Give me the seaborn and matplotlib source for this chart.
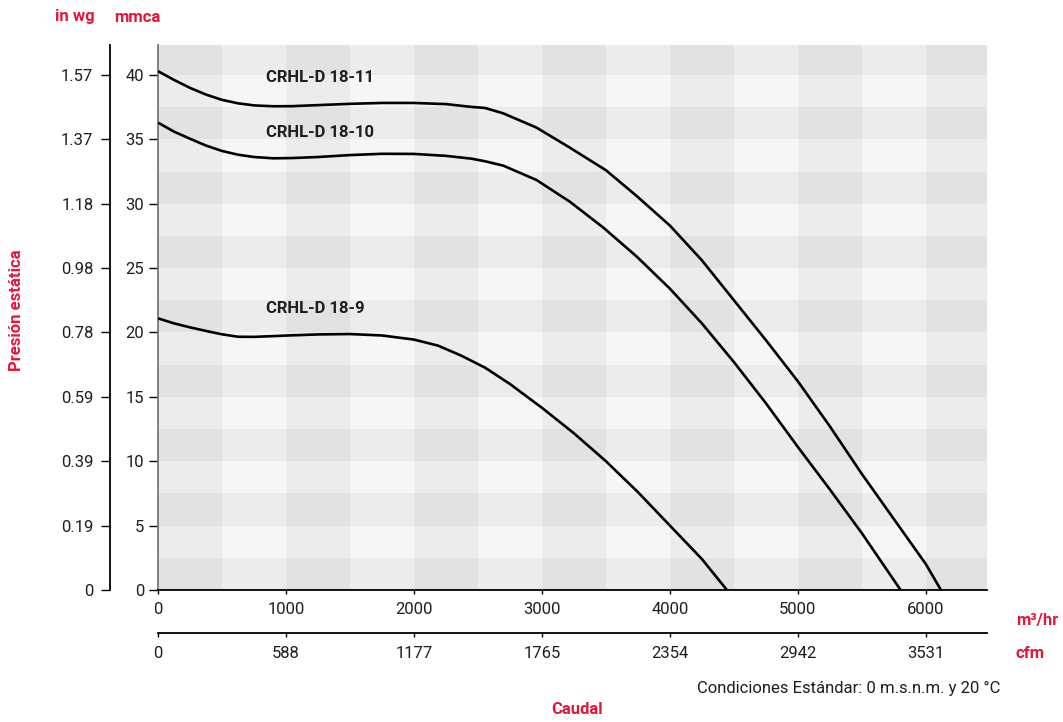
import numpy as np
import pandas as pd
import matplotlib
matplotlib.use("Agg")
import matplotlib.pyplot as plt
from matplotlib.colors import ListedColormap
import seaborn as sns

# ---------------- data ----------------
flow_1811 = [0, 125, 250, 375, 500, 625, 750, 900, 1050, 1250, 1500, 1750, 2000, 2250, 2450,
             2555, 2698, 2958, 3219, 3500, 3740, 4000, 4250, 4500, 4750, 5000, 5250, 5500,
             5750, 6000, 6117]
pres_1811 = [40.3, 39.62, 39.0, 38.48, 38.07, 37.8, 37.64, 37.57, 37.58, 37.66, 37.76, 37.83, 37.83,
             37.74, 37.52, 37.44, 37.02, 35.91, 34.35, 32.6, 30.6, 28.3, 25.6, 22.5, 19.4, 16.2,
             12.7, 9.0, 5.5, 2.0, 0.0]

flow_1810 = [0, 125, 250, 375, 500, 625, 750, 900, 1050, 1250, 1500, 1750, 2000, 2250, 2450,
             2555, 2698, 2958, 3219, 3479, 3740, 4000, 4250, 4500, 4750, 5000, 5250, 5500, 5802]
pres_1810 = [36.3, 35.6, 35.05, 34.52, 34.1, 33.81, 33.63, 33.53, 33.55, 33.63, 33.78, 33.88, 33.87,
             33.72, 33.5, 33.3, 32.96, 31.84, 30.15, 28.15, 25.9, 23.4, 20.7, 17.7, 14.5, 11.1,
             7.8, 4.4, 0.0]

flow_189 = [0, 125, 250, 375, 500, 625, 750, 900, 1050, 1250, 1500, 1750, 2000, 2188, 2370,
            2555, 2750, 3000, 3250, 3500, 3750, 4000, 4250, 4445]
pres_189 = [21.1, 20.71, 20.4, 20.12, 19.86, 19.67, 19.66, 19.72, 19.78, 19.85, 19.88, 19.77, 19.45,
            18.98, 18.2, 17.27, 16.0, 14.15, 12.17, 10.0, 7.6, 5.0, 2.4, 0.0]

model_names = ["CRHL-D 18-11", "CRHL-D 18-10", "CRHL-D 18-9"]
label_pos_x = [844, 844, 844]
label_pos_y = [39.84, 35.57, 21.83]

mmca_ticks = [0, 5, 10, 15, 20, 25, 30, 35, 40]
inwg_labels = ["0", "0.19", "0.39", "0.59", "0.78", "0.98", "1.18", "1.37", "1.57"]
m3h_ticks = [0, 1000, 2000, 3000, 4000, 5000, 6000]
cfm_labels = ["0", "588", "1177", "1765", "2354", "2942", "3531"]

# ---------------- style ----------------
sns.set_theme(style="white")
plt.rcParams["font.family"] = ["Roboto", "DejaVu Sans"]
RED = "#e3173b"
TXT = "#1e1e1e"

W, H = 1063, 722
fig = plt.figure(figsize=(W / 100, H / 100), dpi=100)
ax = fig.add_axes([158 / W, 1 - 590 / H, 829 / W, 545 / H])

XMAX, YMAX = 6477, 42.33
ax.set_xlim(0, XMAX)
ax.set_ylim(0, YMAX)

# checkered background
xe = np.arange(0, 6501, 500)
ye = np.arange(0, 42.6, 2.5)
ci = np.add.outer(np.arange(len(ye) - 1) % 2, np.arange(len(xe) - 1) % 2)
ax.pcolormesh(xe, ye, ci, cmap=ListedColormap(["#e2e2e1", "#ececec", "#f6f6f5"]),
              vmin=-0.5, vmax=2.5, zorder=0, edgecolor="none")

df = pd.concat([
    pd.DataFrame({"flow": flow_1811, "pres": pres_1811, "model": model_names[0]}),
    pd.DataFrame({"flow": flow_1810, "pres": pres_1810, "model": model_names[1]}),
    pd.DataFrame({"flow": flow_189, "pres": pres_189, "model": model_names[2]}),
])
sns.lineplot(data=df, x="flow", y="pres", hue="model", palette=["black"] * 3,
             linewidth=1.9, legend=False, ax=ax, zorder=3)
for ln in ax.get_lines():
    ln.set_solid_joinstyle("round")
    ln.set_solid_capstyle("butt")
ax.set_xlabel("")
ax.set_ylabel("")

for name, lx, ly in zip(model_names, label_pos_x, label_pos_y):
    ax.text(lx, ly, name, fontsize=12, fontweight="bold", color=TXT, va="center", ha="left", zorder=4)

# spines
for s in ["top", "right"]:
    ax.spines[s].set_visible(False)
ax.spines["left"].set_color("#777777")
ax.spines["left"].set_linewidth(1.3)
ax.spines["bottom"].set_color("black")
ax.spines["bottom"].set_linewidth(1.3)

ax.set_yticks(mmca_ticks)
ax.set_yticklabels([str(v) for v in mmca_ticks])
ax.set_xticks(m3h_ticks)
ax.set_xticklabels([str(v) for v in m3h_ticks])
ax.tick_params(axis="y", direction="out", length=6.5, width=1, color="black", pad=3.5,
               labelsize=12, labelcolor=TXT, left=True)
ax.tick_params(axis="x", direction="out", length=3, width=1, color="black", pad=6,
               labelsize=12, labelcolor=TXT, bottom=True)

# outer in-wg axis
sy = ax.secondary_yaxis(-48 / 829)
sy.set_yticks(mmca_ticks)
sy.set_yticklabels(inwg_labels)
sy.tick_params(axis="y", direction="out", length=6.5, width=1, color="black", pad=5.5,
               labelsize=12, labelcolor=TXT)
sy.spines["left"].set_color("black")
sy.spines["left"].set_linewidth(1.3)

# secondary cfm axis
sx = ax.secondary_xaxis(-43 / 545)
sx.set_xticks(m3h_ticks)
sx.set_xticklabels(cfm_labels)
sx.tick_params(axis="x", direction="out", length=3, width=1, color="black", pad=6,
               labelsize=12, labelcolor=TXT)
sx.spines["bottom"].set_color("black")
sx.spines["bottom"].set_linewidth(1.3)

# annotations
def ftext(x, y, s, **kw):
    fig.text(x / W, 1 - y / H, s, **kw)

ftext(75, 17, "in wg", color=RED, fontsize=12, fontweight="bold", ha="center", va="center")
ftext(137, 17, "mmca", color=RED, fontsize=12, fontweight="bold", ha="center", va="center")
ftext(17, 310, "Presión estática", color=RED, fontsize=12, fontweight="bold", ha="center",
      va="center", rotation=90)
ftext(1016, 621, "m³/hr", color=RED, fontsize=12, fontweight="bold", ha="left", va="center")
ftext(1016, 654, "cfm", color=RED, fontsize=12, fontweight="bold", ha="left", va="center")
ftext(577, 710, "Caudal", color=RED, fontsize=12, fontweight="bold", ha="center", va="center")
ftext(1000, 688, "Condiciones Estándar: 0 m.s.n.m. y 20 °C", color=TXT, fontsize=12,
      ha="right", va="center")

fig.savefig("out.png", dpi=100)
